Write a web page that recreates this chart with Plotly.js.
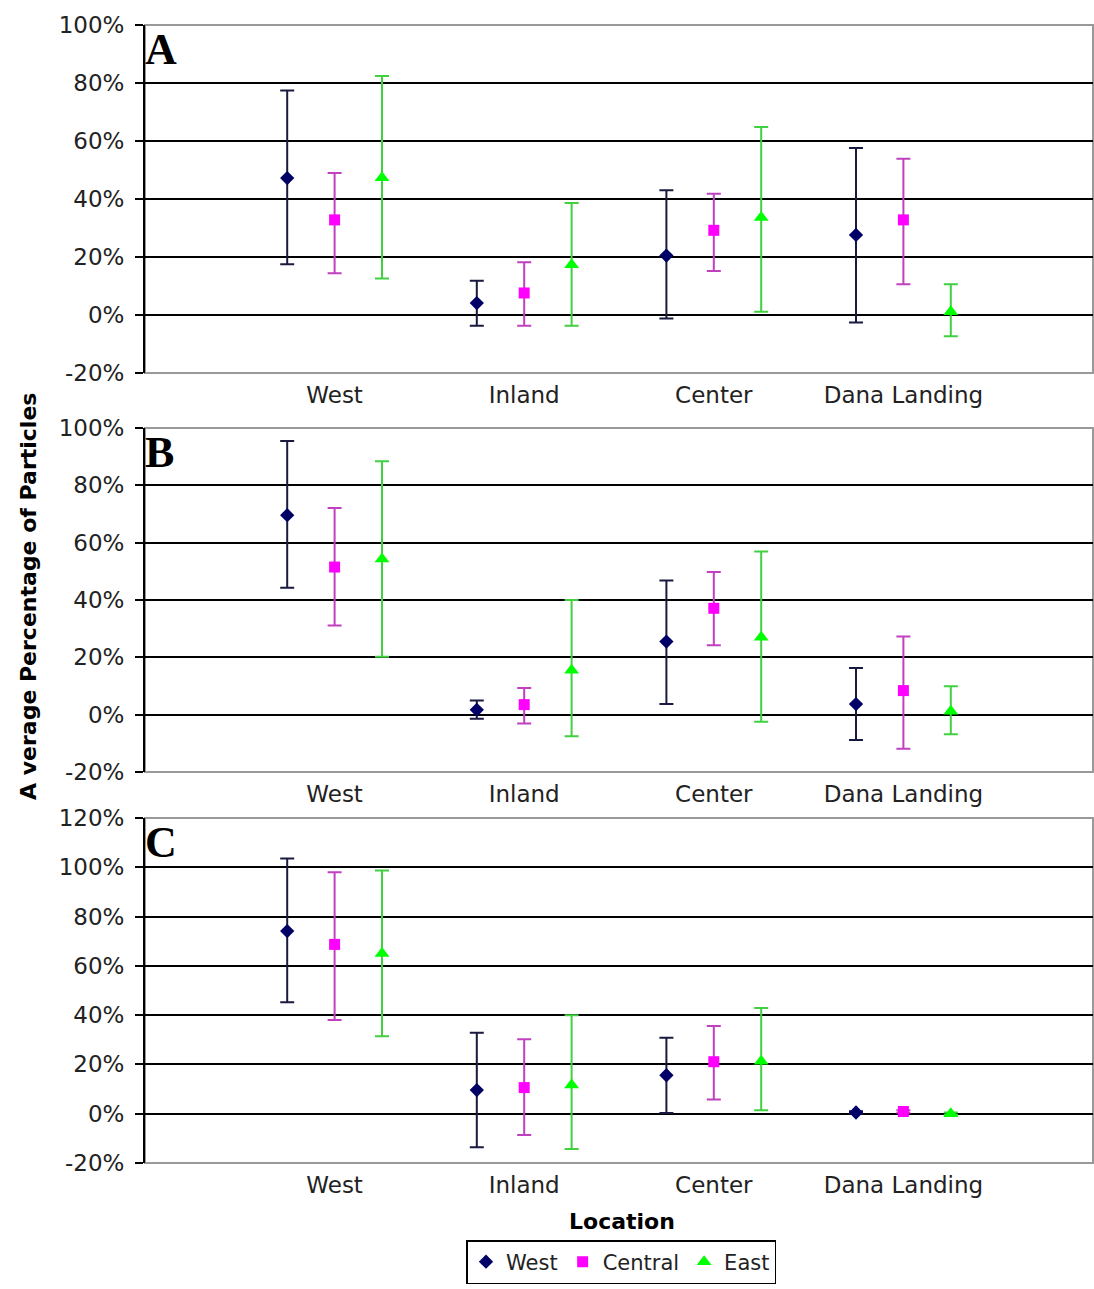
<!DOCTYPE html>
<html>
<head>
<meta charset="utf-8">
<script src="https://cdn.plot.ly/plotly-3.0.1.min.js"></script>
<style>html,body{margin:0;padding:0;background:#fff;}#chart{width:1094px;height:1289px;}</style>
</head>
<body>
<div id="chart"></div>
<script>
// ---- data (percent) ----
const locations = ["West", "Inland", "Center", "Dana Landing"];
const seriesNames = ["West", "Central", "East"];
const panelLetters = ["A", "B", "C"];

// y tick labels per panel
const yTicksAB = [-20, 0, 20, 40, 60, 80, 100];
const yTicksC = [-20, 0, 20, 40, 60, 80, 100, 120];
const yTickTextAB = ["-20%", "0%", "20%", "40%", "60%", "80%", "100%"];
const yTickTextC = ["-20%", "0%", "20%", "40%", "60%", "80%", "100%", "120%"];

// Panel A
const A_west_mean    = [47.2, 4.1, 20.5, 27.6];
const A_west_hi      = [77.4, 11.8, 43.0, 57.6];
const A_west_lo      = [17.5, -3.7, -1.2, -2.6];
const A_central_mean = [32.8, 7.6, 29.2, 32.8];
const A_central_hi   = [49.0, 18.2, 41.8, 53.9];
const A_central_lo   = [14.4, -3.7, 15.2, 10.6];
const A_east_mean    = [47.3, 17.3, 33.6, 1.1];
const A_east_hi      = [82.4, 38.6, 64.8, 10.6];
const A_east_lo      = [12.6, -3.7, 1.1, -7.3];

// Panel B
const B_west_mean    = [69.6, 1.7, 25.5, 3.7];
const B_west_hi      = [95.5, 4.9, 46.8, 16.3];
const B_west_lo      = [44.3, -1.4, 3.7, -8.8];
const B_central_mean = [51.5, 3.5, 37.1, 8.4];
const B_central_hi   = [72.1, 9.3, 49.8, 27.3];
const B_central_lo   = [31.1, -3.1, 24.2, -11.9];
const B_east_mean    = [54.3, 15.5, 27.0, 1.2];
const B_east_hi      = [88.4, 40.0, 56.9, 9.9];
const B_east_lo      = [20.2, -7.5, -2.5, -6.8];

// Panel C
const C_west_mean    = [74.1, 9.6, 15.6, 0.5];
const C_west_hi      = [103.6, 32.9, 30.8, 1.0];
const C_west_lo      = [45.2, -13.6, 0.3, 0.0];
const C_central_mean = [68.7, 10.6, 21.1, 0.9];
const C_central_hi   = [98.0, 30.2, 35.6, 1.4];
const C_central_lo   = [38.0, -8.6, 5.8, 0.4];
const C_east_mean    = [65.0, 11.7, 21.3, 0.0];
const C_east_hi      = [98.7, 40.0, 42.9, 0.5];
const C_east_lo      = [31.4, -14.3, 1.4, -0.5];

const panelRanges = [[-20, 100], [-20, 100], [-20, 120]];
const panelTickVals = [yTicksAB, yTicksAB, yTicksC];
const panelTickText = [yTickTextAB, yTickTextAB, yTickTextC];

// ---- styles ----
const markerColors = ["#000066", "#ff00ff", "#00ff00"];
const errColors = ["#1a1a40", "#c040c0", "#40d040"];
const symbols = ["diamond", "square", "triangle-up"];
const sizes = [11, 11, 13];
const offsets = [-0.25, 0, 0.25];

const panels = [
  [[A_west_mean, A_west_hi, A_west_lo], [A_central_mean, A_central_hi, A_central_lo], [A_east_mean, A_east_hi, A_east_lo]],
  [[B_west_mean, B_west_hi, B_west_lo], [B_central_mean, B_central_hi, B_central_lo], [B_east_mean, B_east_hi, B_east_lo]],
  [[C_west_mean, C_west_hi, C_west_lo], [C_central_mean, C_central_hi, C_central_lo], [C_east_mean, C_east_hi, C_east_lo]]
];

const W = 1094, H = 1289;
const px = v => v / W;
const py = v => 1 - v / H;
const domains = [[py(373), py(25)], [py(772), py(428)], [py(1163), py(818)]];
const xDomain = [px(145), px(1093)];

const tickFont = {family: "DejaVu Sans, Arial, sans-serif", size: 23, color: "#222"};

const traces = [];
panels.forEach((panel, p) => {
  const xa = p === 0 ? "x" : "x" + (p + 1);
  const ya = p === 0 ? "y" : "y" + (p + 1);
  panel.forEach((s, k) => {
    const [mean, hi, lo] = s;
    traces.push({
      type: "scatter",
      mode: "markers",
      name: seriesNames[k],
      legendgroup: seriesNames[k],
      showlegend: p === 0,
      x: locations.map((_, i) => i + 1 + offsets[k]),
      y: mean,
      xaxis: xa, yaxis: ya,
      marker: {symbol: symbols[k], size: sizes[k], color: markerColors[k], line: {width: 0}},
      error_y: {
        type: "data", symmetric: false,
        array: mean.map((m, i) => hi[i] - m),
        arrayminus: mean.map((m, i) => m - lo[i]),
        color: errColors[k], thickness: 2, width: 7
      },
      hoverinfo: "x+y"
    });
  });
});

const layout = {
  width: W, height: H,
  margin: {l: 0, r: 0, t: 0, b: 0},
  paper_bgcolor: "#fff", plot_bgcolor: "#fff",
  showlegend: true,
  legend: {
    orientation: "h", x: px(621), y: py(1262), xanchor: "center", yanchor: "middle",
    bordercolor: "#000", borderwidth: 1.5, bgcolor: "#fff",
    font: {family: "DejaVu Sans, Arial, sans-serif", size: 21, color: "#222"},
    itemwidth: 30, tracegroupgap: 0
  },
  annotations: [],
  shapes: []
};

panels.forEach((_, p) => {
  const sfx = p === 0 ? "" : String(p + 1);
  layout["xaxis" + sfx] = {
    domain: xDomain, anchor: "y" + sfx, range: [0, 5],
    tickmode: "array", tickvals: locations.map((_, i) => i + 1), ticktext: locations,
    showgrid: false, zeroline: false, showline: false, ticks: "",
    ticklabelstandoff: 6,
    tickfont: tickFont, fixedrange: true
  };
  layout["yaxis" + sfx] = {
    domain: domains[p], anchor: "x" + sfx, range: panelRanges[p],
    tickmode: "array", tickvals: panelTickVals[p], ticktext: panelTickText[p],
    showgrid: true, gridcolor: "#000", gridwidth: 2,
    zeroline: false, showline: true, linecolor: "#000", linewidth: 2,
    ticks: "outside", ticklen: 8, tickwidth: 2, tickcolor: "#000",
    ticklabelstandoff: 6,
    tickfont: tickFont, fixedrange: true
  };
  layout.shapes.push({
    type: "rect", xref: "x" + sfx + " domain", yref: "y" + sfx + " domain",
    x0: 0, x1: 1, y0: 0, y1: 1, line: {color: "#999", width: 2}, layer: "below"
  });
  layout.annotations.push({
    text: "<b>" + panelLetters[p] + "</b>", xref: "x" + sfx + " domain", yref: "y" + sfx + " domain",
    x: 0, y: 1, xanchor: "left", yanchor: "top", showarrow: false, xshift: -2, yshift: 2,
    font: {family: "Liberation Serif, Times New Roman, serif", size: 44, color: "#000"}
  });
});

layout.annotations.push({
  text: "<b>Location</b>", xref: "paper", yref: "paper", x: px(622), y: py(1221),
  xanchor: "center", yanchor: "middle", showarrow: false,
  font: {family: "DejaVu Sans, Arial, sans-serif", size: 22, color: "#000"}
});
layout.annotations.push({
  text: "<b>A verage Percentage of Particles</b>", xref: "paper", yref: "paper", x: px(28), y: py(597),
  xanchor: "center", yanchor: "middle", showarrow: false, textangle: -90,
  font: {family: "DejaVu Sans, Arial, sans-serif", size: 22, color: "#000"}
});

Plotly.newPlot("chart", traces, layout, {displayModeBar: false, staticPlot: true});
</script>
</body>
</html>
